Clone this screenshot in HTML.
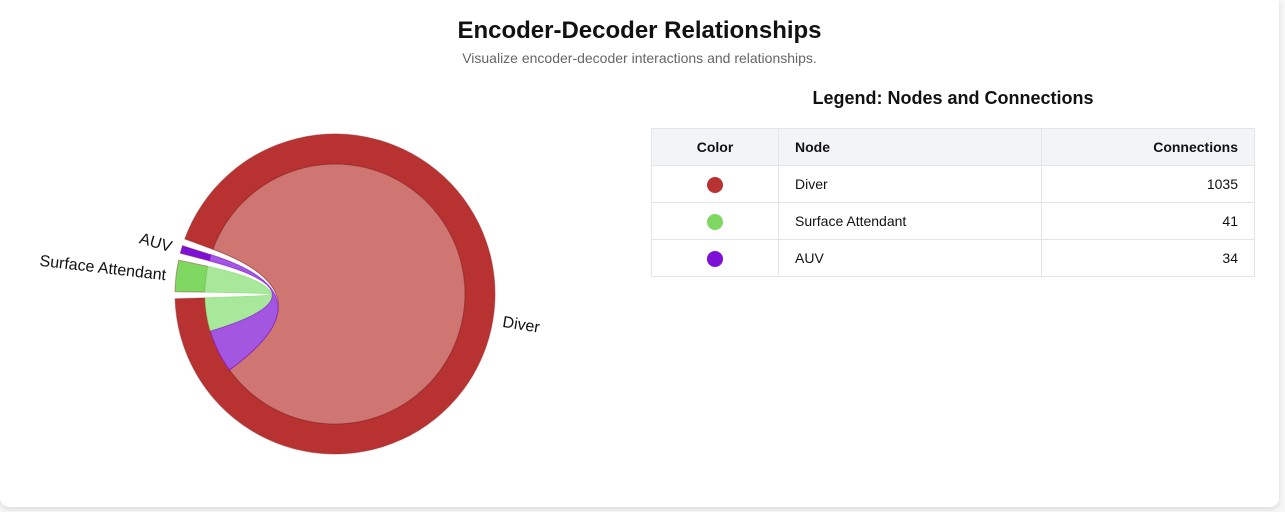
<!DOCTYPE html>
<html><head><meta charset="utf-8">
<style>
html,body{margin:0;padding:0;background:#f7f7f7;width:1285px;height:512px;overflow:hidden;font-family:"Liberation Sans",Arial,sans-serif}
#card{position:absolute;left:0;top:0;width:1279px;height:507px;background:#fff;border-radius:0 0 9px 9px;box-shadow:0 2px 6px rgba(0,0,0,0.12)}
h1{position:absolute;left:0;width:1279px;top:17px;margin:0;text-align:center;font-size:24px;font-weight:bold;color:#111}
.sub{position:absolute;left:0;width:1279px;top:50px;text-align:center;font-size:14px;color:#666}
h2{position:absolute;left:651px;width:604px;top:88px;margin:0;text-align:center;font-size:18px;font-weight:bold;color:#111}
table{position:absolute;left:651px;top:128px;width:604px;border-collapse:collapse;font-size:14px;color:#111}
td,th{border:1px solid #e3e5e8;height:36px;padding:0 16px}
th{background:#f3f4f6;font-weight:bold;text-align:left}
.c{text-align:center;width:94px}.r{text-align:right}
.dot{display:inline-block;width:16px;height:16px;border-radius:50%;vertical-align:middle}
svg{position:absolute;left:0;top:0}
</style></head><body>
<div id="card">
<h1>Encoder-Decoder Relationships</h1>
<div class="sub">Visualize encoder-decoder interactions and relationships.</div>
<h2>Legend: Nodes and Connections</h2>
<table>
<tr><th class="c">Color</th><th style="width:230px">Node</th><th class="r">Connections</th></tr>
<tr><td class="c"><span class="dot" style="background:#b83232"></span></td><td>Diver</td><td class="r">1035</td></tr>
<tr><td class="c"><span class="dot" style="background:#7ed862"></span></td><td>Surface Attendant</td><td class="r">41</td></tr>
<tr><td class="c"><span class="dot" style="background:#7d0fd6"></span></td><td>AUV</td><td class="r">34</td></tr>
</table>
<svg id="chord" width="1285" height="512"></svg>
</div>
<script>
const names=["Diver","Surface Attendant","AUV"];
const arcColors=["#b83232","#7ed862","#7d0fd6"];
const ribbonColors=["#cf7572","#a8e89a","#a356e0"];
// matrix[i][j]: flow from node i to node j
const rowDiver=[958,47,60];
const rowSurface=[36,0,0];
const rowAUV=[9,0,0];
const matrix=[rowDiver,rowSurface,rowAUV];

const NS="http://www.w3.org/2000/svg";
const svg=document.getElementById('chord');
const cx=335,cy=294,ro=160,ri=130;
const startDeg=290.1,padDeg=2.5;
const total=matrix.flat().reduce((a,b)=>a+b,0);
const k=(360-padDeg*names.length)/total;
const rad=d=>d*Math.PI/180;
const pt=(r,a)=>[cx+r*Math.sin(rad(a)),cy-r*Math.cos(rad(a))];
const groups=[],sub={};
let ang=startDeg;
names.forEach((n,i)=>{
  const g0=ang;
  const order=matrix[i].map((v,j)=>j).sort((a,b)=>matrix[i][b]-matrix[i][a]);
  order.forEach(j=>{const a0=ang;ang+=matrix[i][j]*k;sub[i+'-'+j]=[a0,ang];});
  groups.push([g0,ang]);ang+=padDeg;
});
function arcPath(r,a0,a1){const[x1,y1]=pt(r,a1);return `A${r},${r} 0 ${(a1-a0)>180?1:0} 1 ${x1},${y1}`;}
function mk(tag,attrs){const e=document.createElementNS(NS,tag);for(const k in attrs)e.setAttribute(k,attrs[k]);svg.appendChild(e);return e;}
groups.forEach((g,i)=>{
  const[a0,a1]=g;const p0=pt(ro,a0),p3=pt(ri,a1),p4=pt(ri,a0);
  const d=`M${p0} ${arcPath(ro,a0,a1)} L${p3} A${ri},${ri} 0 ${(a1-a0)>180?1:0} 0 ${p4} Z`;
  const e=mk('path',{d:d,fill:arcColors[i],stroke:'#8a2020','stroke-opacity':0.4});
  
  
  const m=(a0+a1)/2;const rot=m-90;const flip=m%360>180;
  const t=mk('text',{transform:`translate(${cx},${cy}) rotate(${rot}) translate(${ro+10}) ${flip?'rotate(180)':''}`,'text-anchor':flip?'end':'start',dy:'0.35em','font-size':'16','fill':'#111','font-family':'Liberation Sans, Arial, sans-serif'});
  t.textContent=names[i];
  
  
});
for(let i=0;i<names.length;i++)for(let j=i;j<names.length;j++){
  if(!matrix[i][j]&&!matrix[j][i])continue;
  const s=sub[i+'-'+j],t=sub[j+'-'+i];
  let d=`M${pt(ri,s[0])} ${arcPath(ri,s[0],s[1])}`;
  if(i!==j){d+=` Q${cx},${cy} ${pt(ri,t[0])} ${arcPath(ri,t[0],t[1])}`;}
  d+=` Q${cx},${cy} ${pt(ri,s[0])} Z`;
  const c=i===j?i:(i===0?j:i);
  const e=mk('path',{d:d,fill:ribbonColors[c],stroke:i===j?'#8a2020':arcColors[c],'stroke-opacity':0.6,'stroke-width':1});
  
  
}
</script>
</body></html>
